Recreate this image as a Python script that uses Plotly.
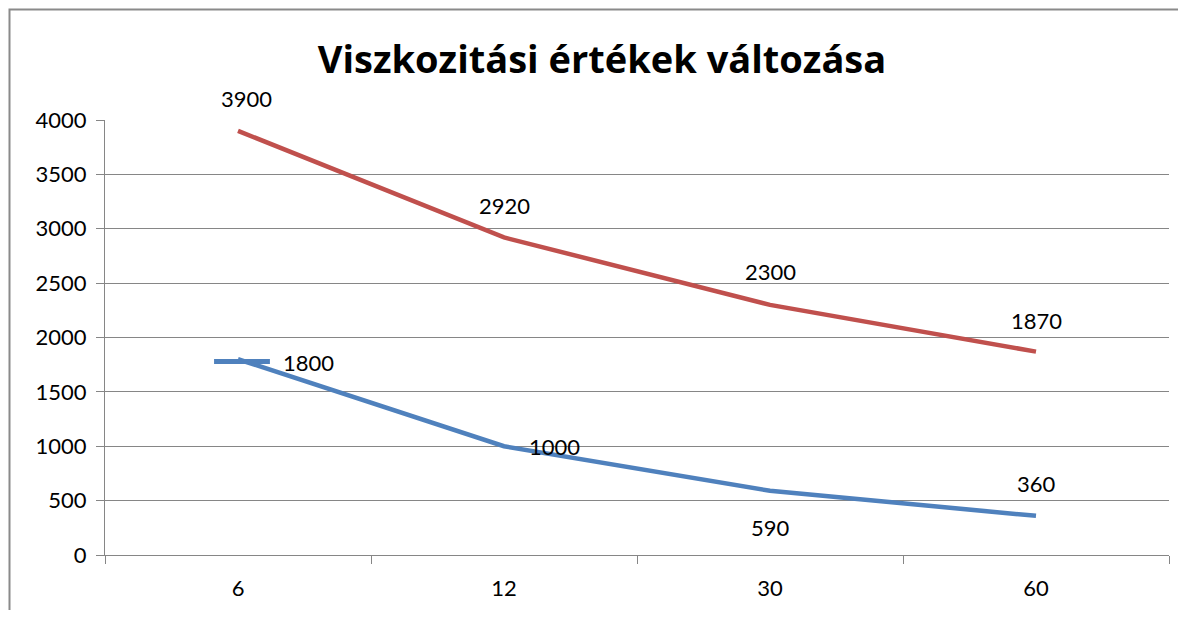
import plotly.graph_objects as go

categories = ["6", "12", "30", "60"]
red_values = [3900, 2920, 2300, 1870]
blue_values = [1800, 1000, 590, 360]
# short stray horizontal blue stroke near the first point (category units, value)
blue_stub_x = [-0.09, 0.12]
blue_stub_y = [1780, 1780]
y_ticks = [0, 500, 1000, 1500, 2000, 2500, 3000, 3500, 4000]

RED = "#C0504D"
BLUE = "#4F81BD"
GRID = "#868686"
FONT = "Lato, Calibri, Carlito, sans-serif"

# page renders with an 8px body margin; compensate and avoid scrollbars
OFF = 8
W, H = 1186 - 2 * OFF, 618 - 2 * OFF
L, R_EDGE, T, B_EDGE = 105 - OFF, 1169 - OFF, 120 - OFF, 557 - OFF
PW, PH = R_EDGE - L, B_EDGE - T

xs = list(range(len(categories)))

fig = go.Figure()
fig.add_trace(go.Scatter(x=xs, y=red_values, mode="lines",
                         line=dict(color=RED, width=4.5), showlegend=False, hoverinfo="skip"))
fig.add_trace(go.Scatter(x=xs, y=blue_values, mode="lines",
                         line=dict(color=BLUE, width=4.5), showlegend=False, hoverinfo="skip"))
fig.add_trace(go.Scatter(x=blue_stub_x, y=blue_stub_y, mode="lines",
                         line=dict(color=BLUE, width=5), showlegend=False, hoverinfo="skip"))

# data labels
red_shift = [(8, 32), (0, 32), (0, 33), (0, 31)]
for i, v in enumerate(red_values):
    fig.add_annotation(x=xs[i], y=v, text=str(v), showarrow=False,
                       xshift=red_shift[i][0], yshift=red_shift[i][1],
                       font=dict(family=FONT, size=22, color="#000000"))
blue_shift = [(70, -3), (50, 0), (0, -37), (0, 32)]
for i, v in enumerate(blue_values):
    fig.add_annotation(x=xs[i], y=v, text=str(v), showarrow=False,
                       xshift=blue_shift[i][0], yshift=blue_shift[i][1],
                       font=dict(family=FONT, size=22, color="#000000"))

# outer chart border (only left and top edges are visible)
bx0 = (1.5 - L) / PW
by1 = (B_EDGE - 1) / PH
fig.add_shape(type="path", xref="paper", yref="paper",
              path=f"M {bx0},-0.5 L {bx0},{by1} L 1.5,{by1}",
              line=dict(color="#8a8a8a", width=2), layer="below")

fig.update_layout(
    width=W, height=H,
    margin=dict(l=L, r=W - R_EDGE, t=T, b=H - B_EDGE),
    paper_bgcolor="white", plot_bgcolor="white",
    font=dict(family=FONT, size=22, color="#000000"),
    title=dict(text="<b>Viszkozitási értékek változása</b>", x=(602 - OFF) / W, xref="container",
               xanchor="center", y=1 - (60 - OFF) / H, yref="container", yanchor="middle",
               font=dict(family="Open Sans, sans-serif", size=38, color="#000000")),
    xaxis=dict(range=[-0.5, 3.5], tickvals=xs, ticktext=categories, ticks="",
               showgrid=False, zeroline=False, showline=True, linecolor=GRID, linewidth=1,
               ticklabelstandoff=14,
               minor=dict(ticks="outside", ticklen=8, tickcolor=GRID, tick0=-0.5, dtick=1,
                          showgrid=False)),
    yaxis=dict(range=[0, 4000], tickvals=y_ticks, ticks="outside", ticklen=8, tickcolor=GRID,
               showgrid=True, gridcolor=GRID, gridwidth=1, zeroline=False,
               showline=True, linecolor=GRID, linewidth=1, ticklabelstandoff=5),
)

fig.write_html("out.html", config={"displayModeBar": False})
